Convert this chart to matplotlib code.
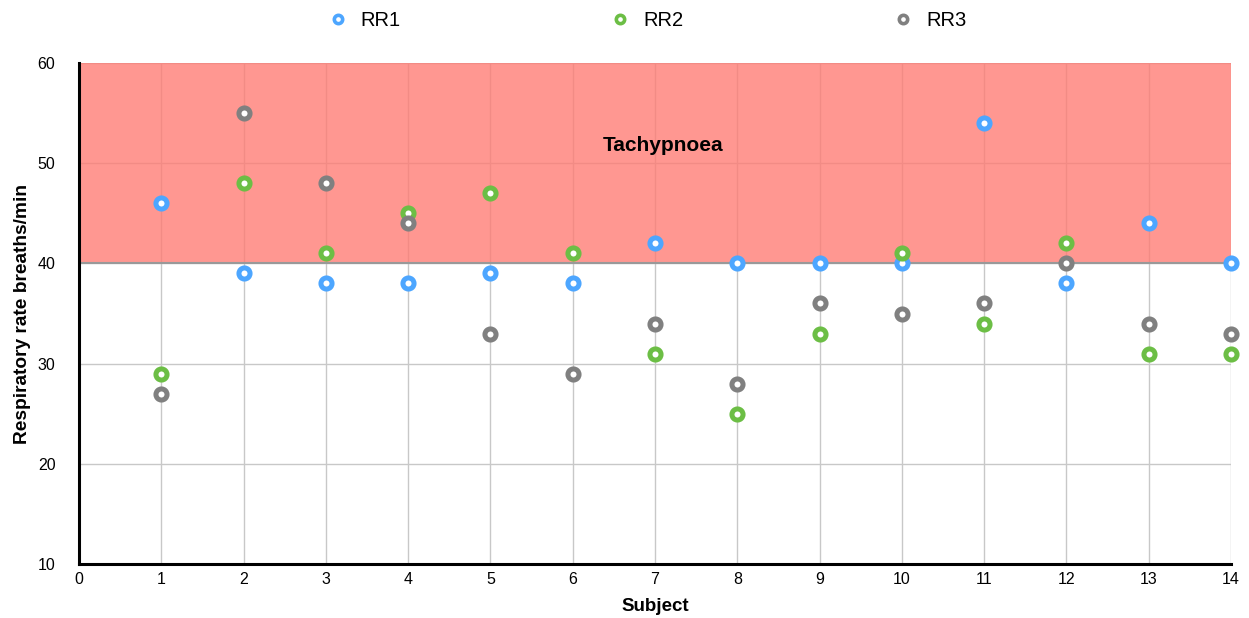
import matplotlib.pyplot as plt
from matplotlib.patches import Rectangle

plt.rcParams['font.family'] = ['Liberation Sans', 'DejaVu Sans']

# respiratory rate per subject
subjects = [1, 2, 3, 4, 5, 6, 7, 8, 9, 10, 11, 12, 13, 14]
rr1 = [46, 39, 38, 38, 39, 38, 42, 40, 40, 40, 54, 38, 44, 40]
rr2 = [29, 48, 41, 45, 47, 41, 31, 25, 33, 41, 34, 42, 31, 31]
rr3 = [27, 55, 48, 44, 33, 29, 34, 28, 36, 35, 36, 40, 34, 33]
series_names = ['RR1', 'RR2', 'RR3']
colors = ['#4da6ff', '#6cbe45', '#808080']

fig = plt.figure(figsize=(12.49, 6.18), dpi=100)
ax = fig.add_axes([0.0633, 0.0874, 0.9223, 0.8106])

# tachypnoea zone (40-60)
ax.add_patch(Rectangle((0, 40), 14, 20, facecolor='#ff7a72', alpha=0.78,
                       edgecolor='none', zorder=2))
ax.axhline(40, color='#999999', lw=1.5, zorder=2.5)
ax.text(7.1, 51.8, 'Tachypnoea', fontsize=15, fontweight='bold',
        ha='center', va='center', zorder=3)

for vals, name, c in zip([rr1, rr2, rr3], series_names, colors):
    ax.plot(subjects, vals, linestyle='none', marker='o', markersize=8,
            markerfacecolor='white', markeredgecolor=c, markeredgewidth=3.6,
            label=name, zorder=4, clip_on=False)

ax.set_xlim(0, 14)
ax.set_ylim(10, 60)
ax.set_xticks(range(0, 15))
ax.set_yticks(range(10, 61, 10))
ax.grid(True, color='#c8c8c8', lw=1, zorder=1)
ax.set_axisbelow(True)
ax.tick_params(length=0, labelsize=11.5, pad=6)
ax.tick_params(axis='y', pad=17)
for s in ['top', 'right']:
    ax.spines[s].set_visible(False)
for s in ['left', 'bottom']:
    ax.spines[s].set_linewidth(2.2)
    ax.spines[s].set_zorder(5)

ax.set_xlabel('Subject', fontsize=13.5, fontweight='bold', labelpad=8)
ax.set_ylabel('Respiratory rate breaths/min', fontsize=13.8, fontweight='bold',
              labelpad=5)

leg = fig.legend(loc='upper center', bbox_to_anchor=(0.518, 1.011), ncol=3,
                 frameon=False, fontsize=14.5, handlelength=1, handletextpad=0.65,
                 columnspacing=10.4)
for h in leg.legend_handles:
    h.set_markersize(6)
    h.set_markeredgewidth(2.6)

fig.savefig('out.png', dpi=100)
